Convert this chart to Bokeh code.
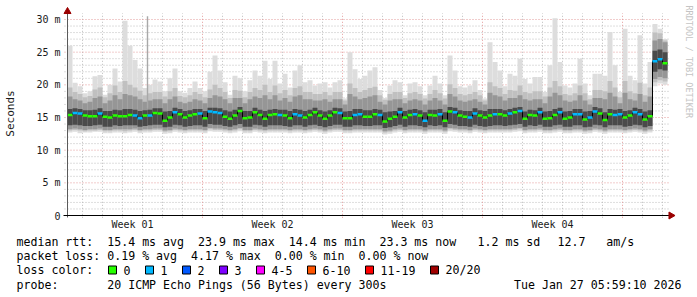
import numpy as np
from bokeh.plotting import figure
from bokeh.models import Range1d
from bokeh.embed import file_html
from bokeh.resources import INLINE
from bokeh.core.properties import value

MONO = "DejaVu Sans Mono"

# ---------------- data (one value per 6-hour bin, 30 days) ----------------
median_ms = [
    15.4, 15.7, 15.6, 15.3, 15.2, 15.2, 15.6, 15.1, 15.0, 15.3,
    15.2, 15.2, 15.4, 15.3, 14.9, 15.3, 15.3, 15.7, 15.6, 14.5,
    15.0, 15.8, 15.5, 15.0, 15.3, 15.5, 15.6, 14.9, 15.9, 15.8,
    15.7, 15.1, 14.8, 15.3, 16.0, 14.9, 15.0, 15.8, 15.4, 14.8,
    15.4, 15.5, 15.4, 15.3, 14.9, 15.5, 15.3, 15.0, 15.4, 15.8,
    15.3, 14.8, 15.3, 15.8, 15.7, 14.9, 14.9, 15.4, 15.5, 15.1,
    15.1, 15.5, 15.4, 14.4, 14.8, 15.1, 15.8, 15.0, 15.4, 15.5,
    15.3, 14.5, 15.4, 15.3, 15.5, 14.5, 15.9, 15.8, 15.3, 15.1,
    15.0, 15.6, 15.3, 15.0, 15.3, 15.5, 15.5, 15.3, 15.6, 15.8,
    16.0, 14.8, 15.4, 15.3, 15.8, 14.8, 14.9, 15.4, 15.8, 14.8,
    15.0, 15.5, 15.5, 14.7, 15.0, 15.9, 15.6, 14.6, 15.5, 15.4,
    15.5, 15.0, 15.3, 15.8, 15.5, 14.7, 15.2, 23.6, 23.9, 23.3]

loss_count = [
    0, 1, 1, 0, 0, 0, 1, 0, 0, 0, 0, 0, 0, 1, 1, 0, 1, 0, 0, 0, 0, 1, 0, 0, 0, 0, 1, 0, 1, 1,
    1, 0, 0, 0, 0, 0, 0, 0, 0, 0, 0, 0, 1, 0, 0, 1, 1, 0, 0, 0, 0, 0, 0, 0, 1, 0, 0, 1, 1, 0,
    0, 0, 1, 0, 0, 0, 1, 0, 0, 1, 0, 1, 0, 0, 1, 0, 0, 1, 0, 0, 1, 1, 0, 0, 0, 1, 0, 0, 1, 0,
    1, 0, 0, 0, 1, 0, 0, 0, 1, 0, 0, 1, 1, 0, 1, 1, 0, 0, 0, 1, 1, 0, 0, 1, 1, 0, 0, 1, 1, 0]

smoke_max = [
    26.0, 20.3, 19.8, 18.7, 19.0, 21.3, 21.5, 18.5, 20.0, 22.5,
    20.5, 29.8, 26.0, 23.8, 22.5, 19.5, 20.0, 20.8, 20.5, 19.0,
    21.0, 22.5, 19.0, 18.8, 19.5, 20.5, 19.5, 19.0, 22.0, 24.5,
    22.2, 20.4, 18.5, 21.4, 21.0, 19.0, 20.7, 22.2, 21.4, 23.7,
    20.9, 23.7, 20.2, 21.7, 19.6, 22.2, 23.0, 20.4, 20.7, 19.9,
    20.2, 20.4, 19.6, 20.4, 20.7, 17.9, 25.0, 22.4, 20.9, 21.4,
    22.2, 22.7, 19.2, 18.0, 19.9, 20.7, 20.4, 18.4, 20.2, 20.4,
    19.8, 18.4, 19.9, 21.4, 20.2, 18.4, 24.5, 22.2, 19.8, 19.6,
    19.9, 20.7, 19.2, 17.9, 26.5, 23.5, 22.2, 19.8, 21.7, 21.4,
    24.0, 20.9, 20.2, 21.2, 21.2, 18.9, 23.0, 30.2, 23.5, 19.9,
    19.6, 20.2, 24.0, 20.2, 18.4, 21.7, 21.7, 21.4, 28.1, 23.0,
    18.9, 28.6, 21.4, 20.7, 27.6, 20.2, 23.5, 29.3, 28.6, 27.0]

smoke_p95 = [
    19.6, 18.9, 18.6, 18.1, 18.3, 19.3, 19.6, 18.1, 18.7, 19.9,
    18.9, 20.6, 20.0, 19.6, 19.1, 18.4, 18.7, 18.9, 18.9, 18.2,
    19.0, 19.5, 18.3, 18.1, 18.4, 18.9, 18.6, 18.1, 19.3, 20.0,
    19.5, 18.9, 18.0, 19.2, 19.1, 18.1, 18.9, 19.5, 19.2, 20.0,
    18.9, 19.9, 18.7, 19.2, 18.4, 19.5, 19.8, 18.9, 18.9, 18.6,
    18.6, 18.9, 18.4, 18.9, 18.9, 17.6, 20.2, 19.5, 18.9, 19.2,
    19.5, 19.7, 18.4, 17.7, 18.6, 18.9, 18.9, 18.0, 18.7, 18.9,
    18.6, 17.9, 18.6, 19.2, 18.7, 17.9, 20.1, 19.5, 18.6, 18.4,
    18.6, 18.9, 18.4, 17.6, 20.4, 19.8, 19.5, 18.6, 19.2, 19.1,
    19.9, 18.9, 18.7, 19.0, 19.0, 18.2, 19.6, 20.6, 19.8, 18.6,
    18.4, 18.7, 19.9, 18.7, 17.8, 19.2, 19.2, 19.0, 20.6, 19.6,
    18.1, 20.6, 19.0, 18.7, 20.3, 18.4, 19.6, 28.0, 27.9, 26.8]

smoke_p90 = [
    18.2, 17.8, 17.6, 17.2, 17.4, 18.0, 18.2, 17.2, 17.6, 18.4,
    17.8, 18.6, 18.4, 18.2, 17.8, 17.4, 17.6, 17.8, 17.8, 17.2,
    17.8, 18.2, 17.4, 17.2, 17.4, 17.8, 17.6, 17.2, 18.0, 18.4,
    18.2, 17.8, 17.2, 18.0, 18.0, 17.2, 17.8, 18.2, 18.0, 18.4,
    17.8, 18.4, 17.6, 18.0, 17.4, 18.2, 18.4, 17.8, 17.8, 17.6,
    17.6, 17.8, 17.4, 17.8, 17.8, 17.0, 18.6, 18.2, 17.8, 18.0,
    18.2, 18.4, 17.4, 17.0, 17.6, 17.8, 17.8, 17.2, 17.6, 17.8,
    17.6, 17.0, 17.6, 18.0, 17.6, 17.0, 18.6, 18.2, 17.6, 17.4,
    17.6, 17.8, 17.4, 17.0, 18.8, 18.4, 18.2, 17.6, 18.0, 18.0,
    18.4, 17.8, 17.6, 17.8, 17.8, 17.2, 18.2, 18.8, 18.4, 17.6,
    17.4, 17.6, 18.4, 17.6, 17.0, 18.0, 18.0, 17.8, 18.8, 18.2,
    17.2, 18.8, 17.8, 17.6, 18.6, 17.4, 18.2, 26.8, 27.0, 26.5]

smoke_p75 = [
    16.3, 16.4, 16.3, 16.1, 16.1, 16.2, 16.4, 16.0, 16.0, 16.2,
    16.1, 16.3, 16.3, 16.2, 16.0, 16.1, 16.2, 16.4, 16.4, 15.9,
    16.0, 16.5, 16.3, 16.0, 16.1, 16.3, 16.3, 16.0, 16.5, 16.5,
    16.4, 16.1, 15.9, 16.2, 16.6, 16.0, 16.0, 16.5, 16.2, 16.0,
    16.2, 16.3, 16.2, 16.2, 16.0, 16.3, 16.2, 16.0, 16.2, 16.5,
    16.1, 15.9, 16.1, 16.5, 16.4, 15.9, 16.0, 16.3, 16.3, 16.1,
    16.1, 16.3, 16.2, 15.8, 15.9, 16.0, 16.5, 16.0, 16.2, 16.3,
    16.1, 15.8, 16.2, 16.2, 16.3, 15.8, 16.6, 16.5, 16.1, 16.0,
    16.0, 16.4, 16.1, 16.0, 16.3, 16.3, 16.3, 16.1, 16.3, 16.5,
    16.6, 15.9, 16.2, 16.1, 16.5, 15.9, 16.0, 16.3, 16.5, 15.9,
    16.0, 16.3, 16.3, 15.9, 16.0, 16.6, 16.4, 15.8, 16.3, 16.2,
    16.3, 16.0, 16.1, 16.5, 16.3, 15.9, 16.1, 25.2, 25.4, 25.0]

smoke_p25 = [
    13.8, 13.9, 13.8, 13.7, 13.7, 13.8, 13.9, 13.6, 13.6, 13.8,
    13.7, 13.8, 13.8, 13.8, 13.6, 13.7, 13.8, 13.9, 13.9, 13.5,
    13.6, 13.9, 13.8, 13.6, 13.7, 13.8, 13.8, 13.6, 14.0, 13.9,
    13.9, 13.7, 13.6, 13.8, 14.0, 13.6, 13.6, 13.9, 13.8, 13.6,
    13.8, 13.8, 13.8, 13.7, 13.6, 13.8, 13.8, 13.6, 13.8, 13.9,
    13.7, 13.5, 13.7, 13.9, 13.9, 13.6, 13.6, 13.8, 13.8, 13.7,
    13.7, 13.8, 13.8, 13.4, 13.5, 13.7, 13.9, 13.6, 13.8, 13.8,
    13.7, 13.5, 13.8, 13.7, 13.8, 13.5, 14.0, 13.9, 13.7, 13.7,
    13.6, 13.9, 13.7, 13.6, 13.7, 13.8, 13.8, 13.7, 13.8, 13.9,
    14.0, 13.6, 13.8, 13.7, 13.9, 13.6, 13.6, 13.8, 13.9, 13.6,
    13.6, 13.8, 13.8, 13.5, 13.6, 13.9, 13.8, 13.5, 13.8, 13.8,
    13.8, 13.6, 13.7, 13.9, 13.8, 13.5, 13.7, 22.0, 22.4, 22.2]

smoke_p10 = [
    13.2, 13.3, 13.2, 13.1, 13.2, 13.2, 13.3, 13.1, 13.1, 13.2,
    13.2, 13.2, 13.2, 13.3, 13.1, 13.2, 13.2, 13.3, 13.3, 13.0,
    13.1, 13.3, 13.2, 13.1, 13.2, 13.2, 13.2, 13.1, 13.4, 13.3,
    13.3, 13.2, 13.1, 13.2, 13.4, 13.1, 13.1, 13.3, 13.2, 13.1,
    13.2, 13.2, 13.2, 13.2, 13.1, 13.2, 13.2, 13.1, 13.2, 13.3,
    13.2, 13.0, 13.2, 13.3, 13.3, 13.1, 13.1, 13.2, 13.2, 13.2,
    13.2, 13.2, 13.2, 12.9, 13.0, 13.2, 13.3, 13.1, 13.2, 13.2,
    13.2, 13.0, 13.2, 13.2, 13.2, 13.0, 13.4, 13.3, 13.2, 13.2,
    13.1, 13.3, 13.2, 13.1, 13.2, 13.2, 13.2, 13.2, 13.2, 13.3,
    13.4, 13.1, 13.2, 13.2, 13.3, 13.1, 13.1, 13.2, 13.3, 13.1,
    13.1, 13.2, 13.2, 13.0, 13.1, 13.3, 13.2, 13.0, 13.2, 13.2,
    13.2, 13.1, 13.2, 13.3, 13.2, 13.0, 13.2, 20.9, 21.2, 21.0]

smoke_p05 = [
    13.0, 13.1, 13.0, 12.9, 13.0, 13.0, 13.1, 12.9, 12.9, 13.0,
    13.0, 12.9, 13.0, 13.1, 12.9, 13.0, 13.0, 13.1, 13.1, 12.8,
    12.9, 13.1, 13.0, 12.9, 13.0, 13.0, 13.0, 12.9, 13.2, 13.1,
    13.1, 13.0, 12.9, 13.0, 13.2, 12.9, 12.9, 13.1, 13.0, 12.9,
    13.0, 13.0, 13.0, 13.0, 12.9, 13.0, 13.0, 12.9, 13.0, 13.1,
    13.0, 12.8, 13.0, 13.1, 13.1, 12.9, 12.9, 13.0, 13.0, 13.0,
    13.0, 13.0, 13.0, 12.7, 12.8, 13.0, 13.1, 12.9, 13.0, 13.0,
    13.0, 12.8, 13.0, 13.0, 13.0, 12.8, 13.2, 13.1, 13.0, 13.0,
    12.9, 13.1, 13.0, 12.9, 13.0, 13.0, 13.0, 13.0, 13.0, 13.1,
    13.2, 12.9, 13.0, 13.0, 13.1, 12.9, 12.9, 13.0, 13.1, 12.9,
    12.9, 13.0, 13.0, 12.8, 12.9, 13.1, 13.0, 12.8, 13.0, 13.0,
    13.0, 12.9, 13.0, 13.1, 13.0, 12.8, 13.0, 20.4, 20.7, 20.5]

smoke_min = [
    12.7, 12.8, 12.6, 12.7, 12.7, 12.8, 12.8, 12.6, 12.6, 12.7,
    12.7, 12.6, 12.7, 12.8, 12.6, 12.7, 12.7, 12.8, 12.8, 12.5,
    12.6, 12.8, 12.7, 12.6, 12.7, 12.7, 12.7, 12.6, 12.9, 12.8,
    12.8, 12.7, 12.6, 12.7, 12.9, 12.6, 12.6, 12.8, 12.7, 12.6,
    12.7, 12.7, 12.7, 12.7, 12.6, 12.7, 12.7, 12.6, 12.7, 12.8,
    12.7, 12.5, 12.7, 12.8, 12.8, 12.6, 12.6, 12.7, 12.7, 12.7,
    12.7, 12.7, 12.7, 12.4, 12.5, 12.7, 12.8, 12.6, 12.7, 12.7,
    12.7, 12.5, 12.7, 12.7, 12.7, 12.5, 12.9, 12.8, 12.7, 12.7,
    12.6, 12.8, 12.7, 12.6, 12.7, 12.7, 12.7, 12.7, 12.7, 12.8,
    12.9, 12.6, 12.7, 12.7, 12.8, 12.6, 12.6, 12.7, 12.8, 12.6,
    12.6, 12.7, 12.7, 12.5, 12.6, 12.8, 12.7, 12.5, 12.7, 12.7,
    12.7, 12.6, 12.7, 12.8, 12.7, 12.5, 12.7, 19.8, 20.2, 20.0]

spike_day = [4.0]
spike_top = [30.5]
spike_base = [16.5]

week_labels = ["Week 01", "Week 02", "Week 03", "Week 04"]
week_label_days = [3.25, 10.25, 17.25, 24.25]
week_start_days = [6.75, 13.75, 20.75, 27.75]

y_ticks = [0, 5, 10, 15, 20, 25, 30]
y_tick_labels = ["0", "5 m", "10 m", "15 m", "20 m", "25 m", "30 m"]

loss_labels = ["0", "1", "2", "3", "4-5", "6-10", "11-19", "20/20"]
loss_colors = ["#26ff00", "#00b8ff", "#0059ff", "#7e00ff", "#ff00ff", "#ff5500", "#ff0000", "#a00000"]

line_rtt_a = "median rtt:  15.4 ms avg  23.9 ms max  14.4 ms min  23.3 ms now"
line_rtt_b = "1.2 ms sd"
line_rtt_c = "12.7   am/s"
line_loss = "packet loss: 0.19 % avg  4.17 % max  0.00 % min  0.00 % now"
line_color_title = "loss color:"
line_probe = "probe:       20 ICMP Echo Pings (56 Bytes) every 300s"
line_date = "Tue Jan 27 05:59:10 2026"
watermark = "RRDTOOL / TOBI OETIKER"
y_title = "Seconds"

N = len(median_ms)
for arr in (loss_count, smoke_max, smoke_p95, smoke_p90, smoke_p75, smoke_p25,
            smoke_p10, smoke_p05, smoke_min):
    assert len(arr) == N, len(arr)


def keep_spaces(s):
    return s.replace(" ", "\u00a0")


# ---------------- geometry ----------------
W, H = 697, 297
AX_X, AX_Y = 67, 215          # pixel position of the axes origin
PX_PER_DAY = 20.0
PX_PER_MS = 196.0 / 30.0

BIN_DAYS = 0.25
t_start = np.arange(N) * BIN_DAYS
t_end = t_start + BIN_DAYS

p = figure(width=W, height=H, title=None,
           x_range=Range1d(-AX_X / PX_PER_DAY, (W - AX_X) / PX_PER_DAY),
           y_range=Range1d(-(H - AX_Y) / PX_PER_MS, AX_Y / PX_PER_MS),
           x_axis_location=None, y_axis_location=None,
           output_backend="svg", toolbar_location=None,
           min_border_left=0, min_border_right=0, min_border_top=0, min_border_bottom=0)
p.extra_x_ranges = {"px": Range1d(0, W)}
p.extra_y_ranges = {"px": Range1d(H, 0)}
p.outline_line_color = None
p.background_fill_color = "#ffffff"
p.border_fill_color = "#ffffff"
p.grid.visible = False

# ---- grid (in data units) ----
x_left_grid, x_right_grid = -0.15, 30.1
y_bottom_grid, y_top_grid = -0.35, 30.95
minor_days = [d + 0.75 for d in range(30) if (d + 0.75) not in week_start_days]
minor_ms = [v for v in range(1, 31) if v % 5 != 0]
major_ms = [5, 10, 15, 20, 25, 30]

MINOR_C, MAJOR_C, DASH = "#bcbcbc", "#e39a9a", "1 2"
p.segment(x0=[x_left_grid] * len(minor_ms), x1=[x_right_grid] * len(minor_ms),
          y0=minor_ms, y1=minor_ms, line_color=MINOR_C, line_dash=DASH, line_width=1)
p.segment(x0=minor_days, x1=minor_days, y0=[y_bottom_grid] * len(minor_days),
          y1=[y_top_grid] * len(minor_days), line_color=MINOR_C, line_dash=DASH, line_width=1)
p.segment(x0=[x_left_grid] * len(major_ms), x1=[x_right_grid] * len(major_ms),
          y0=major_ms, y1=major_ms, line_color=MAJOR_C, line_dash=DASH, line_width=1)
p.segment(x0=week_start_days, x1=week_start_days, y0=[y_bottom_grid] * 4,
          y1=[y_top_grid] * 4, line_color=MAJOR_C, line_dash=DASH, line_width=1)

# ---- smoke ----
p.quad(left=t_start, right=t_end, bottom=smoke_min, top=smoke_max, fill_color="#dddddd", line_color=None)
p.quad(left=t_start, right=t_end, bottom=smoke_p05, top=smoke_p95, fill_color="#c0c0c0", line_color=None)
p.quad(left=t_start, right=t_end, bottom=smoke_p10, top=smoke_p90, fill_color="#969696", line_color=None)
p.quad(left=t_start, right=t_end, bottom=smoke_p25, top=smoke_p75, fill_color="#4a4a4a", line_color=None)
p.vbar(x=spike_day, width=0.07, bottom=spike_base, top=spike_top, fill_color="#a8a8a8", line_color=None)

# ---- median ----
p.step(x=list(t_start) + [t_end[-1]], y=median_ms + [median_ms[-1]], mode="after",
       line_color="#000000", line_width=1)
p.segment(x0=t_start, x1=t_end, y0=median_ms, y1=median_ms,
          line_color=[loss_colors[k] for k in loss_count], line_width=2.5)

# ---- axes ----
p.segment(x0=[0], x1=[0], y0=[-0.3], y1=[31.2], line_color="#5a5a5a", line_width=1)
p.segment(x0=[-0.2], x1=[30.15], y0=[0], y1=[0], line_color="#000000", line_width=1)
p.scatter(x=[0], y=[11], y_range_name="px", marker="triangle", size=7,
          fill_color="#9a0000", line_color="#9a0000")
p.scatter(x=[670.5], y=[0], x_range_name="px", marker="triangle", angle=-np.pi / 2, size=7,
          fill_color="#9a0000", line_color="#9a0000")

p.text(x=[AX_X - 7] * len(y_ticks), y=y_ticks, x_range_name="px", text=y_tick_labels,
       text_font=value(MONO), text_font_size="10px", text_align="right",
       text_baseline="middle", text_color="#1a1a1a")
p.text(x=week_label_days, y=[224] * len(week_labels), y_range_name="px", text=week_labels,
       text_font=value(MONO), text_font_size="10px", text_align="center",
       text_baseline="middle", text_color="#1a1a1a")
p.text(x=[10], y=[113], x_range_name="px", y_range_name="px", text=[y_title], angle=np.pi / 2,
       text_font=value(MONO), text_font_size="11px", text_align="center",
       text_baseline="middle", text_color="#1a1a1a")
p.text(x=[688], y=[5], x_range_name="px", y_range_name="px", text=[keep_spaces(watermark)],
       angle=-np.pi / 2, text_font=value(MONO), text_font_size="8.5px", text_align="left",
       text_baseline="middle", text_color="#c4c4c4")

# ---- statistics block ----
FS = "11.6px"
rows_x = [16, 477, 557, 16, 16, 16]
rows_y = [241, 241, 241, 255.5, 269.5, 284]
rows_t = [line_rtt_a, line_rtt_b, line_rtt_c, line_loss, line_color_title, line_probe]
p.text(x=rows_x, y=rows_y, x_range_name="px", y_range_name="px",
       text=[keep_spaces(s) for s in rows_t], text_font=value(MONO), text_font_size=FS,
       text_baseline="middle", text_align="left", text_color="#000000")
p.text(x=[681], y=[284], x_range_name="px", y_range_name="px", text=[keep_spaces(line_date)],
       text_font=value(MONO), text_font_size=FS, text_baseline="middle", text_align="right",
       text_color="#000000")

box_left = []
xpos = 108
for lab in loss_labels:
    box_left.append(xpos)
    xpos += 30 + 7 * len(lab)
box_left = np.array(box_left, dtype=float)
p.rect(x=box_left + 4, y=[269.5] * len(loss_labels), x_range_name="px", y_range_name="px",
       width=8, height=8, fill_color=loss_colors, line_color="#000000", line_width=1)
p.text(x=box_left + 15, y=[269.5] * len(loss_labels), x_range_name="px", y_range_name="px",
       text=loss_labels, text_font=value(MONO), text_font_size=FS, text_baseline="middle",
       text_color="#000000")

open("out.html", "w").write(file_html(p, INLINE))
